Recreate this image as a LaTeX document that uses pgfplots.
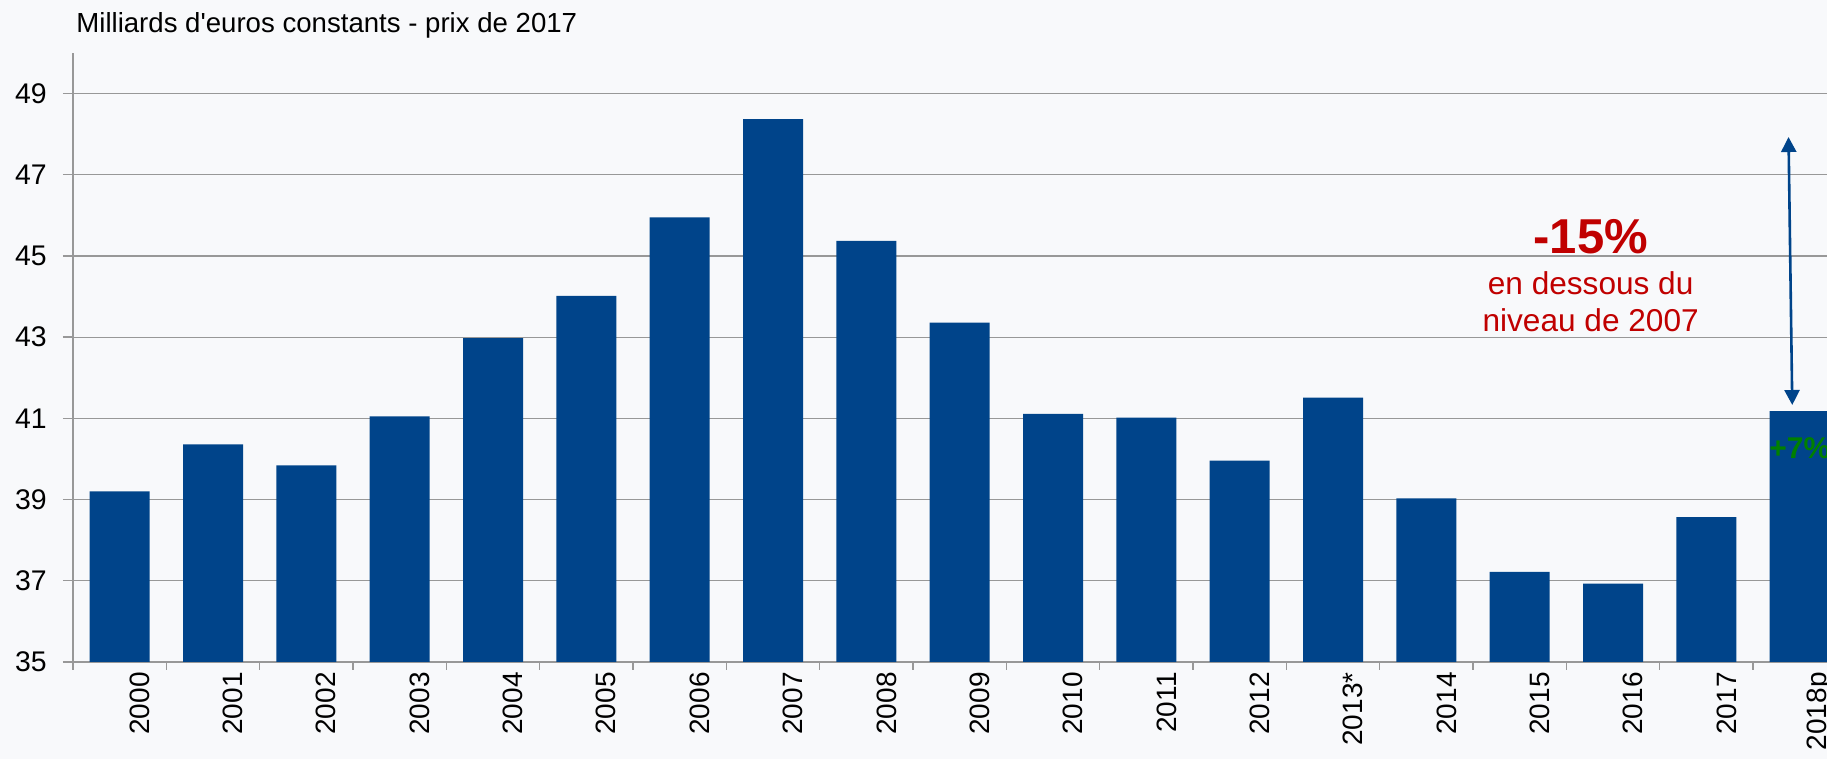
\documentclass[border=0pt]{standalone}
\usepackage{pgfplots}
\pgfplotsset{compat=1.18}
\usepackage{fontspec}
\setmainfont{Liberation Sans}
\usetikzlibrary{arrows.meta}
\definecolor{bg}{RGB}{248,249,251}
\definecolor{barblue}{RGB}{0,68,138}
\definecolor{gridc}{RGB}{152,152,152}
\definecolor{redt}{RGB}{192,0,0}
\definecolor{greent}{RGB}{0,128,0}
\begin{document}
\begin{tikzpicture}
\fill[bg] (-36.5pt,-48.5pt) rectangle (877pt,331pt);
\begin{axis}[
  at={(0,0)}, anchor=south west,
  scale only axis,
  width=886.7pt, height=304.5pt,
  xmin=-0.5, xmax=18.5,
  ymin=35, ymax=50,
  axis x line*=bottom, axis y line*=left,
  axis line style={draw=gridc, line width=0.7pt, -},
  ytick={35,37,...,49},
  ymajorgrids,
  grid style={draw=gridc, line width=0.6pt},
  tick align=outside,
  major tick length=5pt,
  minor tick length=4pt,
  tick style={draw=gridc, line width=0.7pt},
  xtick={0,...,18},
  xtick style={draw=none},
  minor xtick={-0.5,0.5,...,18.5},
  minor x tick style={draw=gridc, line width=0.7pt},
  xticklabels={2000,2001,2002,2003,2004,2005,2006,2007,2008,2009,2010,2011,2012,2013*,2014,2015,2016,2017,2018p},
  xticklabel style={rotate=90, anchor=east, inner sep=0pt, font=\fontsize{14}{16}\selectfont, yshift=-10pt},
  yticklabel style={anchor=east, inner sep=0pt, font=\fontsize{14.2}{16}\selectfont, xshift=-8pt},
  /pgf/number format/assume math mode=true,
  ybar, bar width=30pt,
]
\addplot[fill=barblue, draw=none] coordinates {
(0,39.20) (1,40.36) (2,39.84) (3,41.05) (4,42.98) (5,44.02) (6,45.95) (7,48.37) (8,45.37) (9,43.36)
(10,41.11) (11,41.02) (12,39.96) (13,41.51) (14,39.03) (15,37.22) (16,36.93) (17,38.57) (18,41.18)};
\draw[barblue, line width=1.3pt, {Triangle[width=7.5pt,length=7.5pt]}-{Triangle[width=7.5pt,length=7.5pt]}]
  (axis cs:17.88,47.93) -- (axis cs:17.92,41.33);
\node[anchor=base, text=redt, font=\fontsize{24.5}{30}\selectfont\bfseries, inner sep=0pt] at (axis cs:15.76,45.05) {-15\%};
\node[anchor=base, text=redt, font=\fontsize{15.8}{18}\selectfont, inner sep=0pt] at (axis cs:15.76,44.04) {en dessous du};
\node[anchor=base, text=redt, font=\fontsize{15.8}{18}\selectfont, inner sep=0pt] at (axis cs:15.76,43.13) {niveau de 2007};
\node[anchor=center, text=greent, font=\fontsize{15}{19}\selectfont\bfseries, inner sep=0pt] at (axis cs:18,40.27) {+7\%};
\end{axis}
\node[anchor=base west, inner sep=0pt, font=\fontsize{13.8}{16}\selectfont] at (1.5pt,314.5pt) {Milliards d\textquotesingle euros constants - prix de 2017};
\pgfresetboundingbox
\useasboundingbox (-36.5pt,-48.5pt) rectangle (877pt,331pt);
\end{tikzpicture}
\end{document}
